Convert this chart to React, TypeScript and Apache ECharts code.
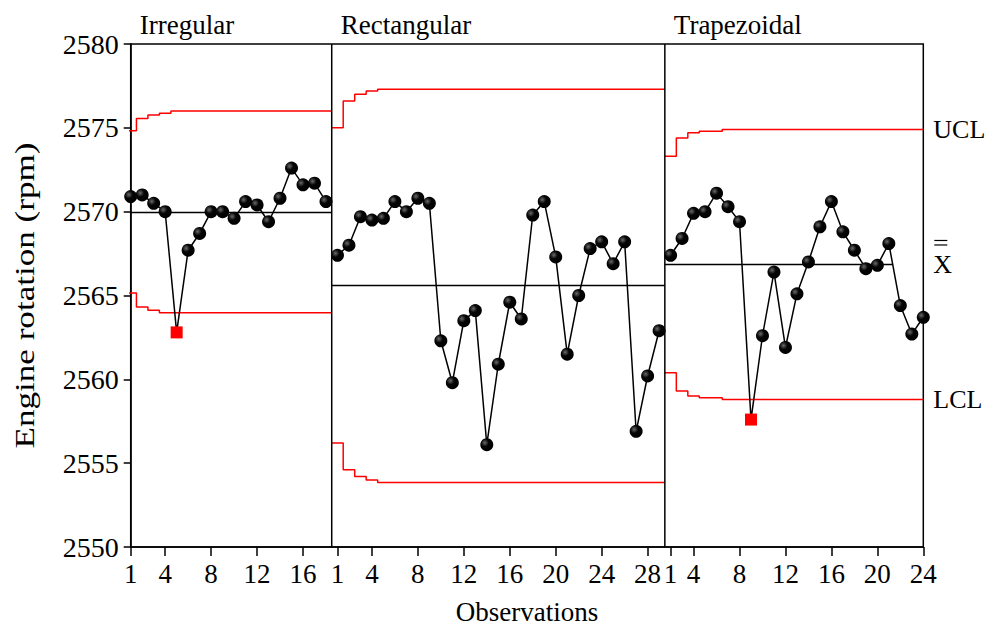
import { useEffect, useRef } from 'react';
import * as echarts from 'echarts';

const FONT = '"Liberation Serif", "Times New Roman", Times, serif';

// Panel names
const panelNames = ['Irregular', 'Rectangular', 'Trapezoidal'];

// Observations (rpm)
const irregularValues = [2570.9, 2571.0, 2570.5, 2570.0, 2562.8, 2567.7, 2568.7, 2570.0, 2570.0, 2569.6, 2570.6, 2570.4, 2569.4, 2570.8, 2572.6, 2571.6, 2571.7, 2570.6];
const rectangularValues = [2567.4, 2568.0, 2569.7, 2569.5, 2569.6, 2570.6, 2570.0, 2570.8, 2570.5, 2562.3, 2559.8, 2563.5, 2564.1, 2556.1, 2560.9, 2564.6, 2563.6, 2569.8, 2570.6, 2567.3, 2561.5, 2565.0, 2567.8, 2568.2, 2566.9, 2568.2, 2556.9, 2560.2, 2562.9];
const trapezoidalValues = [2567.4, 2568.4, 2569.9, 2570.0, 2571.1, 2570.3, 2569.4, 2557.6, 2562.6, 2566.4, 2561.9, 2565.1, 2567.0, 2569.1, 2570.6, 2568.8, 2567.7, 2566.6, 2566.8, 2568.1, 2564.4, 2562.7, 2563.7];

// Position of each panel's first observation on the shared observation axis
const panelFirstPos = [1, 19, 48];
// Panel boundaries on the shared axis
const panelBounds = [1, 18.5, 47.5, 70];

// Centre lines
const centerLines = [2569.95, 2565.6, 2566.85];
const centerLineEnds = [18.5, 47.5, 67.3];

// Control limits: first (start-up) steps, then steady value
const uclSteps = [
  [2574.82, 2575.55, 2575.77, 2575.87],
  [2575.0, 2576.6, 2577.0, 2577.2],
  [2573.3, 2574.4, 2574.7, 2574.8, 2574.8],
];
const uclSteady = [2576.0, 2577.3, 2574.9];
const lclSteps = [
  [2565.15, 2564.31, 2564.12],
  [2556.2, 2554.6, 2554.2, 2554.0],
  [2560.4, 2559.3, 2559.0, 2558.9, 2558.9],
];
const lclSteady = [2563.97, 2553.85, 2558.8];

// X tick positions and labels
const xTickPositions = [1, 4, 8, 12, 16, 19, 22, 26, 30, 34, 38, 42, 46, 48, 50, 54, 58, 62, 66, 70];
const xTickLabels = ['1', '4', '8', '12', '16', '1', '4', '8', '12', '16', '20', '24', '28', '1', '4', '8', '12', '16', '20', '24'];

const Y_MIN = 2550;
const Y_MAX = 2580;
const Y_STEP = 5;
const Y_TITLE = 'Engine rotation (rpm)';

const panelValues = [irregularValues, rectangularValues, trapezoidalValues];

function stepData(first: number, steps: number[], steady: number, end: number) {
  const pts: number[][] = steps.map((v, i) => [first - 0.5 + i, v]);
  pts.push([first - 0.5 + steps.length, steady]);
  pts.push([end, steady]);
  return pts;
}

function limitAt(steps: number[], steady: number, i: number) {
  return i < steps.length ? steps[i] : steady;
}

const dotColor = {
  type: 'radial',
  x: 0.35,
  y: 0.35,
  r: 0.65,
  colorStops: [
    { offset: 0, color: '#6a6a6a' },
    { offset: 0.45, color: '#050505' },
    { offset: 1, color: '#000' },
  ],
};

export default function App() {
  const ref = useRef<HTMLDivElement>(null);

  useEffect(() => {
    document.body.style.margin = '0';
    document.body.style.overflow = 'hidden';
    document.documentElement.style.overflow = 'hidden';
    if (!ref.current) return;
    const chart = echarts.init(ref.current, null, { renderer: 'svg' });
    const H = ref.current.clientHeight || 630;
    const k = H / 630;

    const series: any[] = [];
    for (let p = 0; p < 3; p++) {
      const first = panelFirstPos[p];
      const end = panelBounds[p + 1];
      series.push({
        type: 'line',
        step: 'end',
        data: stepData(first, uclSteps[p], uclSteady[p], end),
        symbol: 'none',
        lineStyle: { color: '#ff0000', width: 1.5 },
        z: 2,
        silent: true,
      });
      series.push({
        type: 'line',
        step: 'end',
        data: stepData(first, lclSteps[p], lclSteady[p], end),
        symbol: 'none',
        lineStyle: { color: '#ff0000', width: 1.5 },
        z: 2,
        silent: true,
      });
      series.push({
        type: 'line',
        data: [
          [panelBounds[p], centerLines[p]],
          [centerLineEnds[p], centerLines[p]],
        ],
        symbol: 'none',
        lineStyle: { color: '#000', width: 1.5 },
        z: 2,
        silent: true,
      });
      series.push({
        type: 'line',
        data: panelValues[p].map((v, i) => {
          const lo = limitAt(lclSteps[p], lclSteady[p], i);
          const hi = limitAt(uclSteps[p], uclSteady[p], i);
          if (v < lo || v > hi) {
            return {
              value: [first + i, v],
              symbol: 'rect',
              symbolSize: 12,
              itemStyle: { color: '#ff0000' },
            };
          }
          return [first + i, v];
        }),
        symbol: 'circle',
        symbolSize: 13,
        showAllSymbol: true,
        lineStyle: { color: '#000', width: 1.5 },
        itemStyle: { color: dotColor as any },
        z: 4,
        silent: true,
      });
    }
    for (let p = 1; p < 3; p++) {
      series.push({
        type: 'line',
        data: [
          [panelBounds[p], Y_MIN],
          [panelBounds[p], Y_MAX],
        ],
        symbol: 'none',
        lineStyle: { color: '#000', width: 1.5 },
        z: 3,
        silent: true,
      });
    }

    chart.setOption({
      animation: false,
      backgroundColor: '#fff',
      textStyle: { fontFamily: FONT, color: '#000' },
      grid: {
        left: 130.7,
        top: 44 * k,
        width: 792.6,
        height: 508.7 * k,
        show: true,
        borderColor: '#000',
        borderWidth: 1.5,
        backgroundColor: 'transparent',
      },
      xAxis: {
        type: 'value',
        min: panelBounds[0],
        max: panelBounds[3],
        splitLine: { show: false },
        axisLine: { show: true, lineStyle: { color: '#000', width: 1.5 } },
        axisTick: {
          show: true,
          customValues: xTickPositions,
          length: 9 * k,
          lineStyle: { color: '#000', width: 1.5 },
        },
        axisLabel: {
          customValues: xTickPositions,
          formatter: (v: number) => {
            const idx = xTickPositions.indexOf(v);
            return idx >= 0 ? xTickLabels[idx] : '';
          },
          fontFamily: FONT,
          fontSize: 27,
          color: '#000',
          margin: 13 * k,
        },
        name: 'Observations',
        nameLocation: 'middle',
        nameGap: 51 * k,
        nameTextStyle: { fontFamily: FONT, fontSize: 27, color: '#000' },
      },
      yAxis: {
        type: 'value',
        min: Y_MIN,
        max: Y_MAX,
        interval: Y_STEP,
        splitLine: { show: false },
        axisLine: { show: true, lineStyle: { color: '#000', width: 1.5 } },
        axisTick: { show: true, length: 7, lineStyle: { color: '#000', width: 1.5 } },
        axisLabel: {
          fontFamily: FONT,
          fontSize: 28,
          color: '#000',
          margin: 12,
          formatter: (v: number) => String(v),
        },
      },
      series,
    });

    const px = (x: number, y: number) => chart.convertToPixel({ gridIndex: 0 }, [x, y]) as number[];
    const graphics: any[] = [];
    for (let p = 0; p < 3; p++) {
      const pt = px(panelBounds[p], Y_MAX);
      graphics.push({
        type: 'text',
        x: pt[0] + 9,
        y: pt[1] - 19 * k,
        style: { text: panelNames[p], font: `27px ${FONT}`, fill: '#000', verticalAlign: 'middle', align: 'left' },
      });
    }
    const midY = (px(1, Y_MIN)[1] + px(1, Y_MAX)[1]) / 2;
    graphics.push({
      type: 'text',
      x: 25,
      y: midY,
      rotation: Math.PI / 2,
      scaleX: 1.3 * k,
      style: { text: Y_TITLE, font: `27px ${FONT}`, fill: '#000', align: 'center', verticalAlign: 'middle' },
    });

    const rightX = px(panelBounds[3], Y_MAX)[0] + 10;
    const uclY = px(panelBounds[3], uclSteady[2])[1];
    const clY = px(panelBounds[3], centerLines[2])[1];
    const lclY = px(panelBounds[3], lclSteady[2])[1];
    graphics.push({ type: 'text', x: rightX, y: uclY, style: { text: 'UCL', font: `26px ${FONT}`, fill: '#000', verticalAlign: 'middle' } });
    graphics.push({ type: 'text', x: rightX, y: clY, style: { text: 'X', font: `26px ${FONT}`, fill: '#000', verticalAlign: 'middle' } });
    graphics.push({ type: 'text', x: rightX, y: lclY, style: { text: 'LCL', font: `26px ${FONT}`, fill: '#000', verticalAlign: 'middle' } });
    graphics.push({ type: 'line', shape: { x1: rightX + 1, y1: clY - 24 * k, x2: rightX + 14, y2: clY - 24 * k }, style: { stroke: '#000', lineWidth: 1.2 } });
    graphics.push({ type: 'line', shape: { x1: rightX + 1, y1: clY - 19.5 * k, x2: rightX + 14, y2: clY - 19.5 * k }, style: { stroke: '#000', lineWidth: 1.2 } });

    chart.setOption({ graphic: graphics });

    return () => chart.dispose();
  }, []);

  return (
    <div
      ref={ref}
      style={{ position: 'relative', width: 988, height: '100vh', minHeight: 630, background: '#fff' }}
    />
  );
}
